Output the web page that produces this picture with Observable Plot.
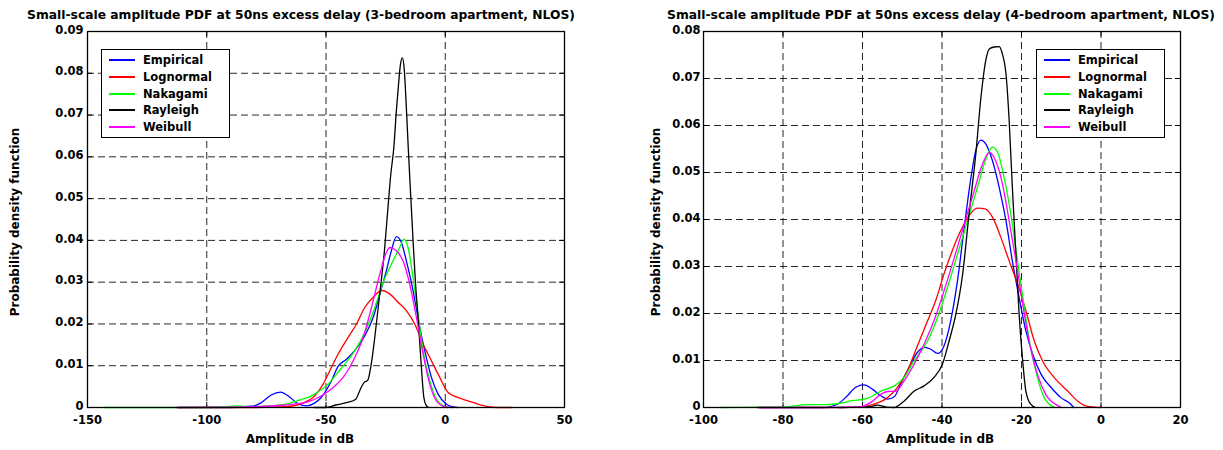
<!DOCTYPE html>
<html>
<head>
<meta charset="utf-8">
<script src="https://cdn.jsdelivr.net/npm/d3@7"></script>
<script src="https://cdn.jsdelivr.net/npm/@observablehq/plot@0.6"></script>
<style>
  html, body { margin: 0; padding: 0; background: #fff; }
  #wrap { position: relative; width: 1223px; height: 450px; overflow: hidden; font-family: "DejaVu Sans", sans-serif; font-weight: bold; color: #000; }
  #wrap svg { position: absolute; top: 0; }
  .title { position: absolute; font-size: 12.3px; white-space: nowrap; transform: translate(-50%, -50%); }
  .xlab { position: absolute; font-size: 12px; white-space: nowrap; transform: translate(-50%, -50%); }
  .ylab { position: absolute; font-size: 12px; white-space: nowrap; transform: translate(-50%, -50%) rotate(-90deg); }
  .legend { position: absolute; background: #fff; border: 1.5px solid #000; box-sizing: border-box; }
  .legend .row { position: absolute; left: 0; height: 0; }
  .legend .sw { position: absolute; height: 2px; top: -1px; }
  .legend .lt { position: absolute; font-size: 11.5px; white-space: nowrap; transform: translateY(-50%); top: 0; }
</style>
</head>
<body>
<div id="wrap"></div>
<script>
// ---------- data ----------
const seriesNames = ["Empirical", "Lognormal", "Nakagami", "Rayleigh", "Weibull"];
const seriesColors = ["#0000ff", "#ff0000", "#00ff00", "#000000", "#ff00ff"];

const leftTitle = "Small-scale amplitude PDF at 50ns excess delay (3-bedroom apartment, NLOS)";
const rightTitle = "Small-scale amplitude PDF at 50ns excess delay (4-bedroom apartment, NLOS)";
const xLabel = "Amplitude in dB";
const yLabel = "Probability density function";

const leftXTicks = [-150, -100, -50, 0, 50];
const leftYTicks = [0, 0.01, 0.02, 0.03, 0.04, 0.05, 0.06, 0.07, 0.08, 0.09];
const rightXTicks = [-100, -80, -60, -40, -20, 0, 20];
const rightYTicks = [0, 0.01, 0.02, 0.03, 0.04, 0.05, 0.06, 0.07, 0.08];

// Left panel (3-bedroom)
const leftEmpirical = [[-112,0],[-90,0],[-84,0.0002],[-80,0.0004],[-77,0.0012],[-73,0.003],[-69,0.0037],[-65,0.0024],[-61.5,0.0008],[-58,0.0004],[-55,0.001],[-52,0.0024],[-47.7,0.0064],[-45,0.0098],[-41.5,0.0115],[-38,0.0136],[-33.7,0.0172],[-30.2,0.0216],[-27.4,0.0272],[-24.7,0.0327],[-22.6,0.0375],[-20.5,0.0409],[-18.4,0.0395],[-16.3,0.0351],[-13.5,0.028],[-10.7,0.0192],[-8.6,0.0136],[-5.8,0.0072],[-3,0.0032],[0.5,0.0008],[3,0.0002],[5.3,0]];
const leftLognormal = [[-112,0],[-80,0],[-72,0.0001],[-67,0.0002],[-60,0.001],[-54.7,0.0028],[-51.2,0.0056],[-48.4,0.0088],[-44.9,0.0128],[-40.7,0.0168],[-37.2,0.02],[-33.7,0.024],[-30.2,0.0264],[-26.7,0.028],[-23.3,0.0272],[-19.8,0.0252],[-16.3,0.0232],[-12.8,0.02],[-9.3,0.0152],[-5.8,0.0112],[-2.3,0.0072],[1.2,0.0036],[5.3,0.0024],[9.5,0.0016],[13.7,0.0008],[17.9,0.0002],[22,0],[28,0]];
const leftNakagami = [[-143,0],[-100,0],[-92,0.0002],[-88,0.0004],[-83,0.0002],[-74,0.0004],[-67,0.0008],[-60,0.002],[-56,0.0028],[-52.6,0.004],[-49.1,0.0056],[-45.6,0.008],[-42.1,0.0104],[-37.9,0.0136],[-33.7,0.018],[-29.5,0.024],[-26,0.03],[-22.6,0.0343],[-19.1,0.0383],[-17.3,0.0403],[-15.6,0.0383],[-13.5,0.0311],[-11.4,0.0224],[-9.3,0.0136],[-6.5,0.0064],[-3.7,0.002],[-0.9,0.0004],[1,0]];
const leftRayleigh = [[-55,0],[-50,0],[-46,0.0006],[-41,0.0012],[-37.5,0.002],[-35.5,0.0045],[-34,0.006],[-32.5,0.0065],[-31,0.0105],[-29.5,0.017],[-27.5,0.027],[-25.5,0.0375],[-24,0.048],[-22.8,0.056],[-21.6,0.062],[-20.5,0.071],[-19.5,0.078],[-18.8,0.082],[-18,0.0837],[-17.2,0.081],[-16.5,0.074],[-15.5,0.062],[-14.7,0.053],[-13.5,0.04],[-12.5,0.03],[-11.4,0.0216],[-10,0.0096],[-9,0.0025],[-8,0.0005],[-7,0]];
const leftWeibull = [[-113,0],[-90,0.0001],[-81,0.0002],[-67,0.0006],[-57.4,0.0014],[-51.9,0.0028],[-47,0.0048],[-42.8,0.0072],[-38.6,0.0112],[-34.4,0.0168],[-30.9,0.024],[-27.4,0.032],[-24.7,0.0371],[-23.3,0.0383],[-20.5,0.0375],[-17.7,0.0351],[-14.9,0.0295],[-12.1,0.0216],[-9.3,0.0128],[-6.5,0.0056],[-3.7,0.0016],[-0.2,0.0002],[3,0]];

// Right panel (4-bedroom)
const rightEmpirical = [[-86,0],[-70,0],[-68,0.0002],[-66.3,0.0007],[-63.8,0.0025],[-61.7,0.0043],[-59.6,0.0048],[-57.5,0.0039],[-55.4,0.0025],[-53.7,0.0018],[-52,0.0023],[-50.4,0.005],[-48.3,0.0085],[-46.2,0.0117],[-44.5,0.0128],[-42.8,0.0124],[-41.1,0.0115],[-39.5,0.0131],[-37.8,0.0185],[-36.1,0.027],[-34.4,0.0383],[-32.7,0.049],[-31.5,0.0547],[-30.2,0.0569],[-29,0.0561],[-27.3,0.0525],[-25.6,0.0468],[-23.9,0.0397],[-22.3,0.0312],[-20.6,0.0234],[-18.9,0.0163],[-17.2,0.0114],[-15.1,0.0071],[-12.6,0.0043],[-10.1,0.0021],[-7.6,0.0007],[-6.9,0]];
const rightLognormal = [[-86,0],[-65,0],[-60.4,0.0001],[-57.1,0.0007],[-53.7,0.0021],[-51.2,0.0043],[-48.7,0.0078],[-46.2,0.0131],[-43.6,0.0185],[-41.6,0.0227],[-39.5,0.0284],[-37.4,0.0334],[-35.3,0.0376],[-33.2,0.0408],[-31.1,0.0424],[-29,0.0422],[-27.3,0.0405],[-25.2,0.0362],[-23.1,0.0312],[-21,0.0263],[-18.9,0.0206],[-16.8,0.0142],[-14.7,0.0099],[-11.8,0.0064],[-8.4,0.0035],[-5.9,0.0014],[-3.6,0.0003],[0,0]];
const rightNakagami = [[-95.7,0],[-80,0.0001],[-73.9,0.0006],[-70,0.0006],[-66.3,0.0008],[-62.2,0.0015],[-60,0.0017],[-58.3,0.0021],[-55.4,0.0035],[-52,0.0046],[-49.5,0.0064],[-47,0.0099],[-43.6,0.0142],[-41.1,0.0192],[-38.6,0.0256],[-36.1,0.0326],[-33.6,0.0397],[-31.1,0.0468],[-29.4,0.0518],[-28.1,0.0546],[-27.3,0.0554],[-26,0.0543],[-24.4,0.049],[-22.7,0.0412],[-21,0.0312],[-19.3,0.0213],[-17.7,0.0128],[-16,0.0064],[-14.3,0.0021],[-12.6,0.0004],[-11.5,0]];
const rightRayleigh = [[-66,0],[-58,0.0002],[-56.2,0.0005],[-54,0.0001],[-52,0],[-49.5,0.0014],[-47,0.0035],[-44.5,0.0046],[-42,0.0064],[-39.9,0.0092],[-38.2,0.0142],[-36.5,0.0199],[-34.8,0.0284],[-33.2,0.0412],[-31.5,0.0539],[-30.2,0.066],[-29,0.0738],[-28.1,0.0763],[-26.9,0.0767],[-25.6,0.0768],[-24.8,0.0752],[-23.9,0.071],[-23.1,0.061],[-22.3,0.0468],[-21.4,0.0326],[-20.6,0.0199],[-19.7,0.0099],[-18.9,0.0035],[-17.7,0.0007],[-16.5,0]];
const rightWeibull = [[-86.5,0],[-70,0],[-62,0.0001],[-60.4,0.0002],[-57.9,0.0011],[-55.4,0.0028],[-53.7,0.0034],[-51.6,0.0035],[-49.5,0.0057],[-47,0.0092],[-44.5,0.0135],[-42,0.0185],[-39.5,0.0248],[-36.9,0.0319],[-34.4,0.039],[-31.9,0.0461],[-29.8,0.0518],[-28.1,0.0543],[-26.5,0.0525],[-24.8,0.0476],[-23.1,0.0397],[-21.4,0.0312],[-19.7,0.022],[-18.1,0.0142],[-16,0.0071],[-13.9,0.0028],[-10.9,0.0004],[-10,0]];

// ---------- build ----------
function table(list) {
  const rows = [];
  list.forEach((pts, i) => pts.forEach(([x, y]) => rows.push({series: seriesNames[i], x, y})));
  return rows;
}
const leftData = table([leftEmpirical, leftLognormal, leftNakagami, leftRayleigh, leftWeibull]);
const rightData = table([rightEmpirical, rightLognormal, rightNakagami, rightRayleigh, rightWeibull]);

const fmtX = d => String(d);
const fmtY = d => d === 0 ? "0" : d.toFixed(2);

function panel(cfg) {
  const innerH = cfg.height - cfg.mt - cfg.mb;
  const innerW = cfg.width - cfg.ml - cfg.mr;
  return Plot.plot({
    width: cfg.width, height: cfg.height,
    marginLeft: cfg.ml, marginRight: cfg.mr, marginTop: cfg.mt, marginBottom: cfg.mb,
    style: {fontFamily: "DejaVu Sans", fontWeight: "bold", fontSize: "11.5px", color: "#000", background: "#fff", overflow: "visible"},
    x: {domain: cfg.xDomain, label: null},
    y: {domain: cfg.yDomain, label: null},
    color: {domain: seriesNames, range: seriesColors},
    marks: [
      Plot.gridX(cfg.xTicks, {stroke: "#000", strokeOpacity: 0.85, strokeDasharray: "7,4", strokeWidth: 1}),
      Plot.gridY(cfg.yTicks, {stroke: "#000", strokeOpacity: 0.85, strokeDasharray: "7,4", strokeWidth: 1}),
      Plot.tickX(cfg.xTicks, {x: d => d, stroke: "#000", insetTop: innerH - 5}),
      Plot.tickX(cfg.xTicks, {x: d => d, stroke: "#000", insetBottom: innerH - 5}),
      Plot.tickY(cfg.yTicks, {y: d => d, stroke: "#000", insetRight: innerW - 5}),
      Plot.tickY(cfg.yTicks, {y: d => d, stroke: "#000", insetLeft: innerW - 5}),
      Plot.axisX({ticks: cfg.xTicks, tickFormat: fmtX, tickSize: 0, tickPadding: 8, label: null, fill: "#000"}),
      Plot.axisY({ticks: cfg.yTicks, tickFormat: fmtY, tickSize: 0, tickPadding: cfg.yPad, dy: -1.5, label: null, fill: "#000"}),
      Plot.line(cfg.data, {x: "x", y: "y", z: "series", stroke: "series", strokeWidth: 1.3, curve: "monotone-x"}),
      Plot.frame({stroke: "#000", strokeWidth: 1.3})
    ]
  });
}

const wrap = document.getElementById("wrap");

const left = panel({width: 600, height: 450, ml: 87, mr: 36, mt: 31, mb: 43,
  xDomain: [-150, 50], yDomain: [0, 0.09], xTicks: leftXTicks, yTicks: leftYTicks, yPad: 4, data: leftData});
left.style.left = "0px";
wrap.appendChild(left);

const right = panel({width: 623, height: 450, ml: 103, mr: 43, mt: 31, mb: 43,
  xDomain: [-100, 20], yDomain: [0, 0.08], xTicks: rightXTicks, yTicks: rightYTicks, yPad: 3, data: rightData});
right.style.left = "600px";
wrap.appendChild(right);

function addText(cls, text, cx, cy) {
  const d = document.createElement("div");
  d.className = cls;
  d.textContent = text;
  d.style.left = cx + "px";
  d.style.top = cy + "px";
  wrap.appendChild(d);
}
addText("title", leftTitle, 301, 15);
addText("title", rightTitle, 941, 15);
addText("xlab", xLabel, 300, 439);
addText("xlab", xLabel, 940, 439);
addText("ylab", yLabel, 15, 222);
addText("ylab", yLabel, 656, 222);

function addLegend(x, y, w, h) {
  const box = document.createElement("div");
  box.className = "legend";
  Object.assign(box.style, {left: x + "px", top: y + "px", width: w + "px", height: h + "px"});
  seriesNames.forEach((name, i) => {
    const row = document.createElement("div");
    row.className = "row";
    row.style.top = Math.round(10 + i * 16.8) + "px";
    const sw = document.createElement("div");
    sw.className = "sw";
    Object.assign(sw.style, {left: "7px", width: "26px", background: seriesColors[i]});
    const lt = document.createElement("div");
    lt.className = "lt";
    lt.style.left = "41px";
    lt.textContent = name;
    row.appendChild(sw); row.appendChild(lt);
    box.appendChild(row);
  });
  wrap.appendChild(box);
}
addLegend(101, 49, 129, 89);
addLegend(1036, 49, 129, 89);
</script>
</body>
</html>
